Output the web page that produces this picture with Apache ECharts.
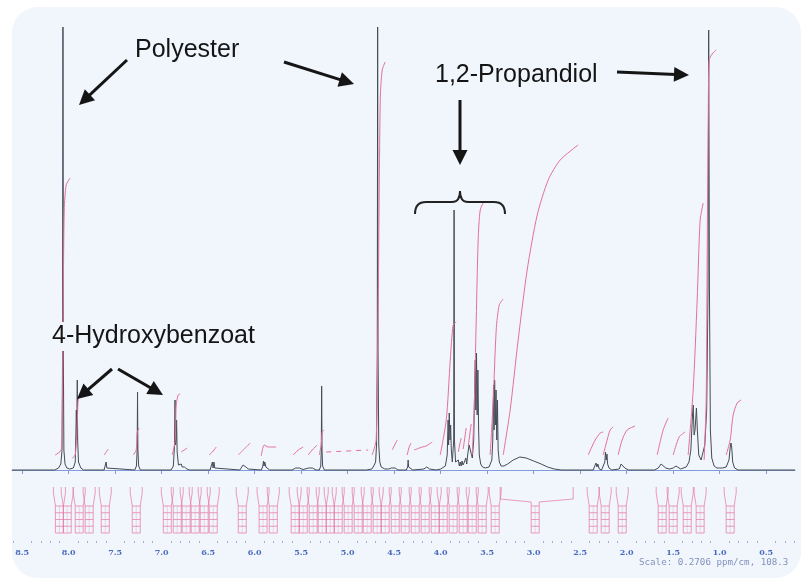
<!DOCTYPE html>
<html><head><meta charset="utf-8">
<script src="https://cdn.jsdelivr.net/npm/echarts@6/dist/echarts.min.js"></script>
<style>html,body{margin:0;padding:0;background:#fff}#c{width:801px;height:578px}</style>
</head><body><div id="c"></div>
<script>
// ---- data (ppm, intensity) ----
const spectrum = [
[8.61,0],[8.15,0],[8.11,2],[8.085,6],[8.072,20],[8.066,120],[8.062,443],[8.058,120],[8.052,20],[8.04,6],[8.02,2],[7.99,1],
[7.95,2],[7.93,8],[7.922,40],[7.918,60],[7.914,30],[7.908,90],[7.904,30],[7.895,8],[7.87,2],[7.84,0],
[7.62,0],[7.605,2],[7.598,8],[7.59,2],[7.57,0],
[7.29,0],[7.272,4],[7.264,20],[7.26,78],[7.256,20],[7.248,4],[7.23,0],
[6.9,0],[6.875,4],[6.862,25],[6.857,70],[6.851,25],[6.845,30],[6.84,50],[6.834,18],[6.82,5],[6.8,4],[6.79,6],[6.78,3],[6.77,5],[6.755,3],[6.73,1],[6.7,0],
[6.48,0],[6.462,2],[6.455,8],[6.448,2],[6.438,8],[6.43,2],[6.41,0],
[6.16,0],[6.14,2],[6.125,5],[6.115,3],[6.105,5],[6.095,3],[6.085,4],[6.07,1],[6.05,0],
[5.93,0],[5.915,3],[5.905,9],[5.9,4],[5.892,8],[5.88,3],[5.86,1],[5.84,0],
[5.6,0],[5.56,2],[5.54,3],[5.52,2],[5.48,0.5],[5.42,2],[5.4,3],[5.38,2],[5.34,0],
[5.305,0],[5.29,4],[5.284,20],[5.28,84],[5.276,20],[5.27,4],[5.25,0],
[4.8,0],[4.74,1],[4.72,4],[4.715,6],[4.708,4],[4.7,8],[4.69,25],[4.682,120],[4.678,443],[4.674,120],[4.666,25],[4.655,8],[4.64,3],[4.6,1],[4.56,1],
[4.53,2],[4.51,3],[4.49,2],[4.46,0],
[4.37,0],[4.355,3],[4.35,10],[4.345,3],[4.335,5],[4.325,2],[4.3,0],
[4.18,1],[4.15,3],[4.12,1],[4.05,0],
[4.0,1],[3.95,4],[3.93,15],[3.92,50],[3.915,25],[3.908,57],[3.9,30],[3.893,45],[3.886,20],[3.875,8],[3.86,30],[3.856,260],[3.852,30],[3.84,8],
[3.82,6],[3.81,10],[3.8,4],[3.79,8],[3.78,4],[3.77,9],[3.76,5],[3.745,8],[3.73,12],[3.72,6],[3.71,15],[3.695,25],
[3.66,12],[3.645,30],[3.635,80],[3.628,110],[3.622,60],[3.615,117],[3.608,55],[3.6,100],[3.592,40],[3.585,15],[3.57,6],[3.55,3],[3.52,2],[3.48,3],[3.45,10],
[3.44,30],[3.432,85],[3.426,40],[3.42,90],[3.412,45],[3.405,80],[3.397,30],[3.39,70],[3.382,20],[3.37,8],[3.35,4],[3.32,4],
[3.28,6],[3.22,10],[3.15,13],[3.08,12],[3.0,9],[2.92,6],[2.85,3],[2.78,1],[2.7,0],
[2.36,0],[2.34,2],[2.33,7],[2.32,3],[2.31,6],[2.295,1],[2.27,0],
[2.25,1],[2.235,8],[2.228,18],[2.22,10],[2.212,16],[2.205,6],[2.19,2],[2.16,0],
[2.08,1],[2.06,6],[2.05,4],[2.04,7],[2.02,2],[1.98,0],
[1.7,0],[1.66,2],[1.63,6],[1.61,6],[1.58,2],[1.54,1],
[1.5,2],[1.47,4],[1.45,4],[1.42,1],[1.36,3],
[1.33,8],[1.31,20],[1.295,50],[1.285,65],[1.275,35],[1.265,40],[1.25,62],[1.24,40],[1.225,15],[1.2,10],[1.18,12],[1.16,25],[1.14,60],[1.125,180],[1.118,440],[1.11,180],[1.1,40],[1.085,12],[1.06,4],[1.03,2],[1.0,2],[0.985,3],[0.97,2],[0.93,3],[0.9,10],[0.885,24],[0.878,27],[0.87,22],[0.86,8],[0.84,2],[0.8,0],[0.19,0]
];

const integralCurves = [
[[8.145,15],[8.081,20],[8.07,50],[8.059,170],[8.048,260],[8.027,285],[7.984,292]],
[[7.962,12],[7.93,15],[7.909,45],[7.898,70],[7.876,74],[7.844,76]],
[[7.618,15],[7.597,18],[7.575,21]],
[[7.306,15],[7.274,20],[7.263,38],[7.242,42]],
[[6.887,15],[6.855,30],[6.844,65],[6.823,75],[6.801,76]],
[[6.79,18],[6.726,22]],
[[6.489,15],[6.446,19],[6.414,23]],
[[6.177,15],[6.113,21],[6.048,27]],
[[5.93,14],[5.898,25],[5.855,23],[5.769,23]],
[[5.586,15],[5.532,20],[5.478,23]],
[[5.425,15],[5.382,20],[5.328,25]],
[[5.306,15],[5.285,25],[5.274,38],[5.253,40]],
[[4.737,15],[4.694,30],[4.672,170],[4.65,370],[4.629,400],[4.597,408]],
[[4.522,20],[4.468,30]],
[[4.36,15],[4.339,23],[4.318,27]],
[[4.285,20],[4.199,23],[4.156,24],[4.091,28]],
[[4.005,15],[3.94,50],[3.897,110],[3.866,145],[3.833,148]],
[[3.812,18],[3.78,32]],
[[3.758,21],[3.726,42]],
[[3.704,24],[3.672,46]],
[[3.661,15],[3.64,60],[3.618,150],[3.597,230],[3.575,260],[3.532,269]],
[[3.468,15],[3.435,70],[3.403,140],[3.371,165],[3.328,171]],
[[3.328,15],[3.253,60],[3.167,130],[3.07,200],[2.962,255],[2.844,290],[2.715,310],[2.522,325]],
[[2.414,15],[2.339,30],[2.285,37],[2.253,38]],
[[2.253,15],[2.21,30],[2.178,40],[2.145,43]],
[[2.092,15],[2.049,30],[1.995,40],[1.909,44]],
[[1.672,15],[1.608,40],[1.554,52]],
[[1.5,15],[1.436,33],[1.371,38]],
[[1.339,15],[1.285,80],[1.242,170],[1.21,250],[1.177,267]],
[[1.167,10],[1.145,70],[1.134,220],[1.123,350],[1.113,410],[1.081,416],[1.037,420]],
[[0.93,15],[0.887,30],[0.855,55],[0.812,67],[0.769,70]]
];
const integralDashed = [[5.231,18],[4.78,20]];

const ladderCenters = [8.10,8.016,7.887,7.78,7.607,7.274,6.94,6.833,6.737,6.64,6.543,6.446,6.134,5.91,5.80,
5.565,5.478,5.371,5.274,5.188,5.102,4.995,4.887,4.79,4.683,4.597,4.489,4.382,4.274,4.167,4.059,3.973,3.866,3.758,3.661,3.554,3.414,
2.36,2.231,2.048,1.618,1.5,1.349,1.21,0.887];
const wideLadder = [[2.984,3.36,2.575]];

const majorTicks = [8.5,8.0,7.5,7.0,6.5,6.0,5.5,5.0,4.5,4.0,3.5,3.0,2.5,2.0,1.5,1.0,0.5];
const minorTicks = [8.6,8.4,8.3,8.2,8.1,7.9,7.8,7.7,7.6,7.4,7.3,7.2,7.1,6.9,6.8,6.7,6.6,6.4,6.3,6.2,6.1,5.9,5.8,5.7,5.6,5.4,5.3,5.2,5.1,4.9,4.8,4.7,4.6,4.4,4.3,4.2,4.1,3.9,3.8,3.7,3.6,3.4,3.3,3.2,3.1,2.9,2.8,2.7,2.6,2.4,2.3,2.2,2.1,1.9,1.8,1.7,1.6,1.4,1.3,1.2,1.1,0.9,0.8,0.7,0.6,0.4,0.3,0.2];

const labels = {polyester:'Polyester', propandiol:'1,2-Propandiol', hydroxy:'4-Hydroxybenzoat', scale:'Scale: 0.2706 ppm/cm, 108.3'};

// ---- chart ----
const BG = '#f1f5fc', PINK = '#e4709c', INK = '#151515';
const chart = echarts.init(document.getElementById('c'), null, {renderer:'canvas'});

function arrow(x1,y1,x2,y2){
  const a = Math.atan2(y2-y1,x2-x1), hl=15, hw=7.5;
  const bx = x2-hl*Math.cos(a), by = y2-hl*Math.sin(a);
  const s=Math.sin(a), c=Math.cos(a);
  return [
    {type:'line', z:50, shape:{x1:x1,y1:y1,x2:bx+2*c,y2:by+2*s}, style:{stroke:INK,lineWidth:3}},
    {type:'polygon', z:50, shape:{points:[[x2,y2],[bx+hw*s,by-hw*c],[bx-hw*s,by+hw*c]]}, style:{fill:INK}}
  ];
}

const series = [];
series.push({type:'line', data:spectrum, showSymbol:false, symbol:'none', z:4,
  lineStyle:{color:'#454b57', width:1}, animation:false});
integralCurves.forEach(function(cv){
  series.push({type:'line', data:cv, showSymbol:false, symbol:'none', z:5, smooth:0.25,
    lineStyle:{color:PINK, width:1}, animation:false});
});
series.push({type:'line', data:integralDashed, showSymbol:false, symbol:'none', z:5,
  lineStyle:{color:PINK, width:1, type:[5,5]}, animation:false});

function ladderBox(api, cx){
  const top = api.coord([0,-36])[1], bot = api.coord([0,-63])[1];
  const w = 8, kids = [];
  kids.push({type:'rect', shape:{x:cx-w/2,y:top,width:w,height:bot-top}, style:{fill:'none',stroke:PINK,lineWidth:0.8,opacity:0.85}});
  [0.25,0.5,0.75].forEach(function(f){
    const yy = top+(bot-top)*f;
    kids.push({type:'line', shape:{x1:cx-w/2,y1:yy,x2:cx+w/2,y2:yy}, style:{stroke:PINK,lineWidth:0.8,opacity:0.85}});
  });
  kids.push({type:'line', shape:{x1:cx,y1:top,x2:cx,y2:bot}, style:{stroke:PINK,lineWidth:0.5,opacity:0.5}});
  return kids;
}
series.push({type:'custom', data:ladderCenters.map(function(p){return [p];}), z:3, animation:false,
  renderItem:function(params, api){
    const cx = api.coord([api.value(0),0])[0];
    const top = api.coord([0,-36])[1], vt = api.coord([0,-23])[1], tt = api.coord([0,-17])[1];
    const kids = ladderBox(api, cx);
    [-1,1].forEach(function(d){
      kids.push({type:'polyline', shape:{points:[[cx+d*4,top],[cx+d*6,vt],[cx+d*6,tt]]}, style:{fill:'none',stroke:PINK,lineWidth:0.8,opacity:0.85}});
    });
    return {type:'group', children:kids};
  }});
series.push({type:'custom', data:wideLadder, z:3, animation:false,
  renderItem:function(params, api){
    const cx = api.coord([api.value(0),0])[0];
    const xl = api.coord([api.value(1),0])[0], xr = api.coord([api.value(2),0])[0];
    const top = api.coord([0,-36])[1], mid = api.coord([0,-29])[1], tt = api.coord([0,-17])[1];
    const kids = ladderBox(api, cx);
    kids.push({type:'polyline', shape:{points:[[cx-4,top],[cx-4,top-4],[xl,mid],[xl,tt]]}, style:{fill:'none',stroke:PINK,lineWidth:0.8,opacity:0.85}});
    kids.push({type:'polyline', shape:{points:[[cx+4,top],[cx+4,top-4],[xr,mid],[xr,tt]]}, style:{fill:'none',stroke:PINK,lineWidth:0.8,opacity:0.85}});
    return {type:'group', children:kids};
  }});

const braceStyle = {stroke:'#222', lineWidth:2, fill:'none'};
let graphics = [
  {type:'rect', z:-10, shape:{x:12,y:7,width:789,height:571,r:26}, style:{fill:BG}},
  {type:'text', z:60, x:135, y:38, style:{text:labels.polyester, font:'25px "Liberation Sans", Arial', fill:INK}},
  {type:'text', z:60, x:435, y:63, style:{text:labels.propandiol, font:'25px "Liberation Sans", Arial', fill:INK}},
  {type:'text', z:60, x:50, y:322, style:{text:labels.hydroxy, font:'25px "Liberation Sans", Arial', fill:INK, backgroundColor:BG, padding:[2,2,2,2]}},
  {type:'text', z:60, x:639, y:558, style:{text:labels.scale, font:'9.2px "DejaVu Sans Mono", monospace', fill:'#8092bb'}},
  {type:'bezierCurve', z:50, shape:{x1:415,y1:214,cpx1:415,cpy1:202,x2:426,y2:202}, style:braceStyle},
  {type:'line', z:50, shape:{x1:426,y1:202,x2:452,y2:202}, style:braceStyle},
  {type:'bezierCurve', z:50, shape:{x1:452,y1:202,cpx1:460,cpy1:202,x2:460,y2:191}, style:braceStyle},
  {type:'bezierCurve', z:50, shape:{x1:460,y1:191,cpx1:460,cpy1:202,x2:468,y2:202}, style:braceStyle},
  {type:'line', z:50, shape:{x1:468,y1:202,x2:494,y2:202}, style:braceStyle},
  {type:'bezierCurve', z:50, shape:{x1:494,y1:202,cpx1:505,cpy1:202,x2:505,y2:214}, style:braceStyle}
];
graphics = graphics.concat(arrow(127,60,79,105), arrow(284,62,354,84), arrow(460,100,460,165),
  arrow(617,72,689,75), arrow(112,369,77,399), arrow(118,369,163,395));

chart.setOption({
  backgroundColor:'#ffffff',
  animation:false,
  grid:{left:12,right:6,top:20,bottom:37,containLabel:false},
  xAxis:[
    {type:'value', inverse:true, min:0.19, max:8.61, position:'bottom',
     axisLine:{show:true,lineStyle:{color:'#7f9cd8',width:1}},
     axisTick:{show:true, customValues:majorTicks, length:4, lineStyle:{color:'#7f9cd8'}},
     axisLabel:{show:true, customValues:majorTicks, margin:8, fontSize:8, fontWeight:'bold', fontFamily:'DejaVu Serif', color:'#4a6cc0',
       formatter:function(v){return v.toFixed(1);}},
     splitLine:{show:false}},
    {type:'value', inverse:true, min:0.19, max:8.61, position:'bottom', gridIndex:0,
     axisLine:{show:false},
     axisTick:{show:true, customValues:minorTicks, length:2, lineStyle:{color:'#9bb2e2'}},
     axisLabel:{show:false}, splitLine:{show:false}}
  ],
  yAxis:{type:'value', min:-71, max:450, show:false, splitLine:{show:false}},
  graphic:graphics,
  series:series
});
</script></body></html>
